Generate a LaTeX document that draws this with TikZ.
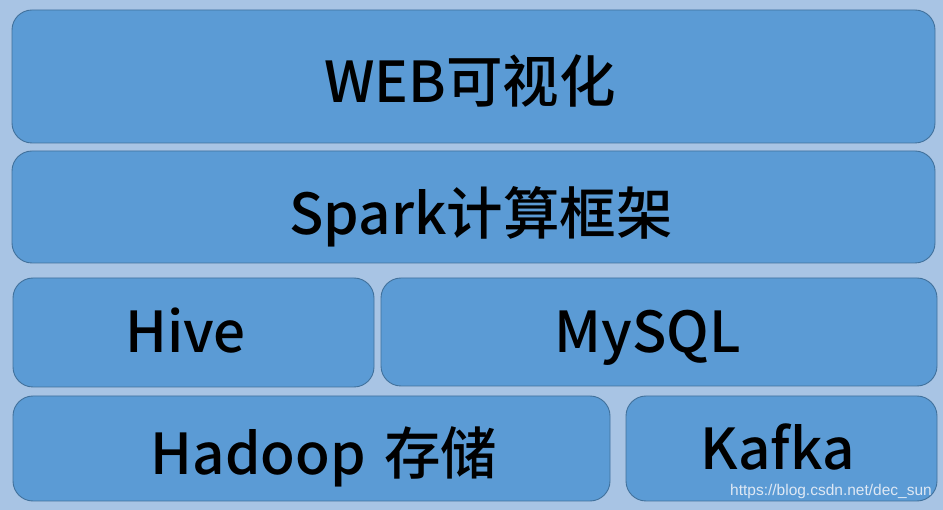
\documentclass[tikz,border=0pt]{standalone}
\usepackage{fontspec}
\setmainfont{Noto Sans CJK SC}[BoldFont={Noto Sans CJK SC Medium}]
\newfontfamily\markfont{Liberation Sans}
\begin{document}
\begin{tikzpicture}[x=1pt, y=-1pt, line join=round,
    layer/.style={draw=layerline, fill=layerblue, line width=0.9pt, rounded corners=20pt, inner sep=0pt},
    layertext/.style={anchor=base, inner sep=0pt, font=\bfseries\fontsize{56.5}{56.5}\selectfont},
  ]

% ---------- colours ----------
\definecolor{pagebg}{RGB}{168,196,228}
\definecolor{layerblue}{RGB}{91,155,213}
\definecolor{layerline}{RGB}{65,113,156}
\definecolor{markgray}{RGB}{222,232,244}

% background
\fill[pagebg] (0,0) rectangle (943,510);
\useasboundingbox (0,0) rectangle (943,510);

% ---------- layers ----------
\node[layer, minimum width=923pt, minimum height=133pt] (web)    at (473.5,76.5)  {};
\node[layer, minimum width=923pt, minimum height=112pt] (spark)  at (473.5,207)   {};
\node[layer, minimum width=361pt, minimum height=109pt] (hive)   at (193.5,332.5) {};
\node[layer, minimum width=556pt, minimum height=108pt] (mysql)  at (659,332)     {};
\node[layer, minimum width=597pt, minimum height=105pt] (hadoop) at (311.5,448.5) {};
\node[layer, minimum width=311pt, minimum height=105pt] (kafka)  at (781.5,448.5) {};

% ---------- labels (x = centre, y = baseline) ----------
\node[layertext] (webtext)    at (470,103)   {WEB可视化};
\node[layertext] (sparktext)  at (481,235)   {Spark计算框架};
\node[layertext] (hivetext)   at (185.5,353) {Hive};
\node[layertext] (mysqltext)  at (647.5,353) {MySQL};
\node[layertext] (hadooptext) at (324,475)   {Hadoop\hspace{0.1em} 存储};
\node[layertext] (kafkatext)  at (777.5,470) {Kafka};

% watermark
\node[anchor=east, inner sep=0pt, text=markgray, font=\markfont\fontsize{15.5}{15.5}\selectfont] (mark) at (932,491) {https://blog.csdn.net/dec\_sun};

\end{tikzpicture}
\end{document}
